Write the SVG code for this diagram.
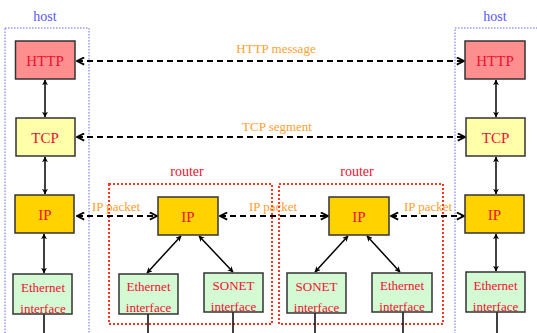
<svg xmlns="http://www.w3.org/2000/svg" width="537" height="333" viewBox="0 0 537 333">
  <defs>
    <marker id="head" viewBox="0 0 10 10" refX="9" refY="5" markerWidth="6" markerHeight="6" orient="auto-start-reverse" markerUnits="userSpaceOnUse">
      <path d="M0,0 L10,5 L0,10 L3,5 Z" fill="#000"/>
    </marker>
    <marker id="open" viewBox="0 0 10 10" refX="9" refY="5" markerWidth="9" markerHeight="9" orient="auto-start-reverse" markerUnits="userSpaceOnUse">
      <path d="M1,1 L9,5 L1,9" fill="none" stroke="#000" stroke-width="2"/>
    </marker>
    <style>
      text { font-family: "Liberation Serif", "Times New Roman", serif; text-anchor: middle; }
      .box { stroke: #333; stroke-width: 1.5; }
      .http { fill: #ff8f8f; }
      .tcp { fill: #ffffaa; }
      .ip { fill: #ffd200; }
      .eth { fill: #d4fad4; }
      .layer { fill: #f01030; font-size: 15px; }
      .iface { fill: #f01030; font-size: 13px; }
      .msg { fill: #ffa030; font-size: 13px; }
      .host { fill: #5555ff; font-size: 14px; }
      .rlabel { fill: #f01030; font-size: 14px; }
      .hostframe { fill: none; stroke: #6666ff; stroke-width: 1; stroke-dasharray: 1.5 1.5; }
      .routerframe { fill: none; stroke: #ff3322; stroke-width: 2; stroke-dasharray: 2 2; }
      .link { stroke: #000; stroke-width: 1.5; fill: none; marker-start: url(#head); marker-end: url(#head); }
      .peer { stroke: #000; stroke-width: 2; fill: none; stroke-dasharray: 6 4; marker-start: url(#open); marker-end: url(#open); }
      .wire { stroke: #000; stroke-width: 1.5; }
    </style>
  </defs>

  <!-- frames -->
  <g id="host-left">
    <rect class="hostframe" x="5" y="28" width="84" height="310"/>
    <text class="host" x="45" y="21">host</text>
  </g>
  <g id="host-right">
    <path class="hostframe" d="M455,340 V28 H545"/>
    <text class="host" x="495" y="21">host</text>
  </g>
  <g id="router-1">
    <rect class="routerframe" x="109" y="184" width="163" height="140"/>
    <text class="rlabel" x="187" y="176">router</text>
  </g>
  <g id="router-2">
    <rect class="routerframe" x="279" y="184" width="164" height="140"/>
    <text class="rlabel" x="357" y="176">router</text>
  </g>

  <!-- connectors -->
  <g id="connectors">
    <line class="link" x1="45" y1="80" x2="45" y2="117"/>
    <line class="link" x1="45" y1="157" x2="45" y2="194"/>
    <line class="link" x1="44" y1="234" x2="44" y2="273"/>
    <line class="link" x1="496" y1="80" x2="496" y2="117"/>
    <line class="link" x1="496" y1="157" x2="496" y2="194"/>
    <line class="link" x1="496" y1="234" x2="496" y2="271"/>
    <line class="link" x1="181" y1="236" x2="147" y2="273"/>
    <line class="link" x1="199" y1="236" x2="233" y2="272"/>
    <line class="link" x1="348" y1="236" x2="315" y2="272"/>
    <line class="link" x1="367" y1="236" x2="400" y2="272"/>

    <line class="peer" x1="77" y1="61" x2="464" y2="61"/>
    <line class="peer" x1="77" y1="137" x2="465" y2="137"/>
    <line class="peer" x1="77" y1="216" x2="157" y2="216"/>
    <line class="peer" x1="220" y1="216" x2="328" y2="216"/>
    <line class="peer" x1="391" y1="216" x2="464" y2="216"/>

    <line class="wire" x1="44" y1="314" x2="44" y2="333"/>
    <line class="wire" x1="148" y1="314" x2="148" y2="333"/>
    <line class="wire" x1="233" y1="312" x2="233" y2="333"/>
    <line class="wire" x1="315" y1="313" x2="315" y2="333"/>
    <line class="wire" x1="403" y1="312" x2="403" y2="333"/>
    <line class="wire" x1="497" y1="312" x2="497" y2="333"/>

    <text class="msg" x="276" y="53">HTTP message</text>
    <text class="msg" x="277" y="131">TCP segment</text>
    <text class="msg" x="116" y="211">IP packet</text>
    <text class="msg" x="273" y="211">IP packet</text>
    <text class="msg" x="428" y="211">IP packet</text>
  </g>

  <!-- left host stack -->
  <g id="l-http"><rect class="box http" x="15.5" y="41" width="59.5" height="38"/><text class="layer" x="45" y="66">HTTP</text></g>
  <g id="l-tcp"><rect class="box tcp" x="16" y="118" width="59" height="38"/><text class="layer" x="45" y="143">TCP</text></g>
  <g id="l-ip"><rect class="box ip" x="15" y="195" width="59" height="38"/><text class="layer" x="45" y="220">IP</text></g>
  <g id="l-eth"><rect class="box eth" x="13" y="274" width="59" height="40"/><text class="iface" x="43" y="292">Ethernet</text><text class="iface" x="43" y="313">interface</text></g>

  <!-- router 1 -->
  <g id="r1-ip"><rect class="box ip" x="158" y="197" width="60" height="38"/><text class="layer" x="188" y="222">IP</text></g>
  <g id="r1-eth"><rect class="box eth" x="119" y="274" width="59" height="40"/><text class="iface" x="148.5" y="291">Ethernet</text><text class="iface" x="148.5" y="312">interface</text></g>
  <g id="r1-sonet"><rect class="box eth" x="204" y="273" width="59" height="39"/><text class="iface" x="233.5" y="290">SONET</text><text class="iface" x="233.5" y="311">interface</text></g>

  <!-- router 2 -->
  <g id="r2-ip"><rect class="box ip" x="329" y="197" width="60" height="38"/><text class="layer" x="359" y="222">IP</text></g>
  <g id="r2-sonet"><rect class="box eth" x="287" y="273" width="59" height="40"/><text class="iface" x="316.5" y="291">SONET</text><text class="iface" x="316.5" y="312">interface</text></g>
  <g id="r2-eth"><rect class="box eth" x="372" y="273" width="60" height="39"/><text class="iface" x="402" y="290">Ethernet</text><text class="iface" x="402" y="311">interface</text></g>

  <!-- right host stack -->
  <g id="r-http"><rect class="box http" x="465" y="41" width="60" height="38"/><text class="layer" x="495" y="66">HTTP</text></g>
  <g id="r-tcp"><rect class="box tcp" x="466" y="118" width="59" height="38"/><text class="layer" x="495.5" y="143">TCP</text></g>
  <g id="r-ip"><rect class="box ip" x="465" y="195" width="59" height="38"/><text class="layer" x="494.5" y="220">IP</text></g>
  <g id="r-eth"><rect class="box eth" x="466" y="272" width="59" height="40"/><text class="iface" x="495.5" y="290">Ethernet</text><text class="iface" x="495.5" y="311">interface</text></g>
</svg>
